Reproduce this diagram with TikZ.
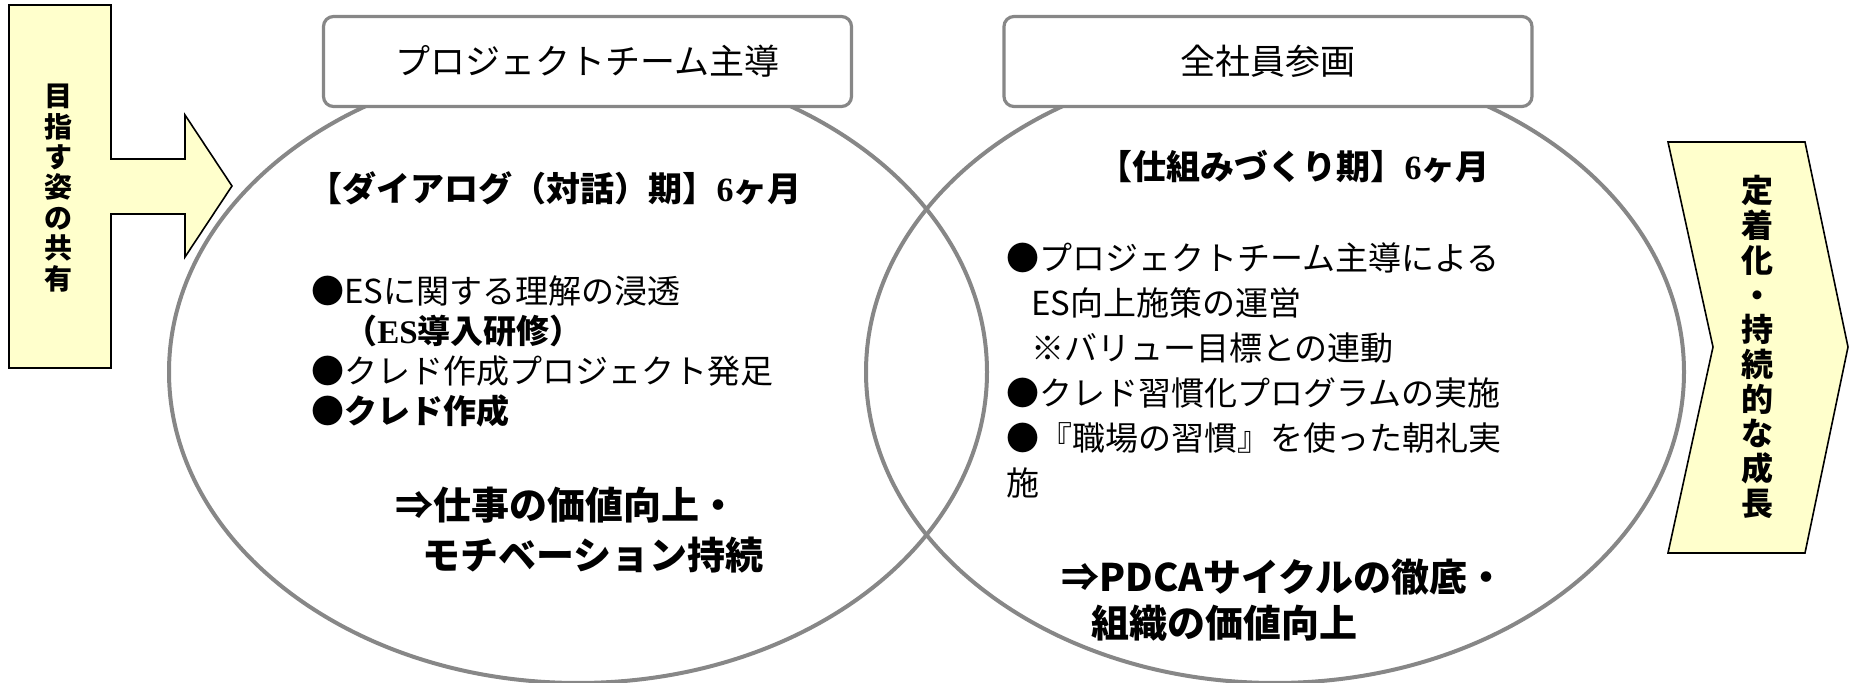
\documentclass[tikz,border=0pt]{standalone}
\usepackage{fontspec}
\setmainfont{Noto Sans CJK JP}
\newfontfamily\latinserif{Liberation Serif}
\usetikzlibrary{shapes.geometric}
\definecolor{ringgray}{HTML}{878787}
\definecolor{paleyellow}{HTML}{FFFFCC}
\tikzstyle{ring}=[ellipse, draw=ringgray, line width=2pt, inner sep=0pt, minimum width=409pt, minimum height=311pt]
\tikzstyle{headbox}=[draw=ringgray, line width=1.6pt, rounded corners=5pt, fill=white, minimum width=264pt, minimum height=45pt, font=\fontsize{17.5}{20}\selectfont]
\tikzstyle{signpost}=[draw=black, line width=0.8pt, fill=paleyellow]
\tikzstyle{phase}=[inner sep=0pt, font=\bfseries\fontsize{17}{20}\selectfont]
\tikzstyle{items}=[align=left, anchor=west, inner sep=0pt]
\tikzstyle{result}=[align=left, anchor=west, inner sep=0pt]
\newcommand{\six}{{\latinserif\bfseries 6}}

\begin{document}
\begin{tikzpicture}[x=0.5pt, y=-0.5pt]
  \useasboundingbox (0,0) rectangle (1849,683);
  \node[ring] (dialog) at (578,372) {};
  \node[ring] (system) at (1275,372) {};
  \node[headbox] (leadteam) at (587.5,61.5) {プロジェクトチーム主導};
  \node[headbox] (leadall) at (1268,61.5) {全社員参画};
  \draw[signpost] (9,5) -- (111,5) -- (111,159) -- (185,159) -- (185,115) -- (232,186)
    -- (185,257) -- (185,214) -- (111,214) -- (111,368) -- (9,368) -- cycle;
  \node[align=center, inner sep=0pt, font=\bfseries\fontsize{14}{15.2}\selectfont] (vision) at (58,188)
    {目\\指\\す\\姿\\の\\共\\有};
  \draw[signpost] (1668,142) -- (1805,142) -- (1848,347) -- (1805,553) -- (1668,553) -- (1713,347) -- cycle;
  \node[align=center, inner sep=0pt, font=\bfseries\fontsize{16}{17.35}\selectfont] (growth) at (1757,347)
    {定\\着\\化\\・\\持\\続\\的\\な\\成\\長};
  \node[phase] (dialogtitle) at (555,188) {【ダイアログ（対話）期】\six ヶ月};
  \node[phase] (systemtitle) at (1294,167) {【仕組みづくり期】\six ヶ月};
  \node[items, font=\fontsize{16.5}{20}\selectfont] (dialogitems) at (311,351)
    {●ESに関する理解の浸透\\
     \hspace*{1em}\textbf{（{\latinserif ES}導入研修）}\\
     ●クレド作成プロジェクト発足\\
     \textbf{●クレド作成}};
  \node[items, font=\fontsize{16.5}{22.5}\selectfont] (systemitems) at (1006,370.5)
    {●プロジェクトチーム主導による\\
     \hspace*{0.75em}ES向上施策の運営\\
     \hspace*{0.75em}※バリュー目標との連動\\
     ●クレド習慣化プログラムの実施\\
     ●『職場の習慣』を使った朝礼実\\
     施};
  \node[result, font=\bfseries\fontsize{19}{25}\selectfont] (dialogresult) at (395,530)
    {⇒仕事の価値向上・\\
     \hspace*{0.7em}モチベーション持続};
  \node[result, font=\bfseries\fontsize{19}{23}\selectfont] (systemresult) at (1061,600)
    {⇒PDCAサイクルの徹底・\\
     \hspace*{0.8em}組織の価値向上};
\end{tikzpicture}
\end{document}
